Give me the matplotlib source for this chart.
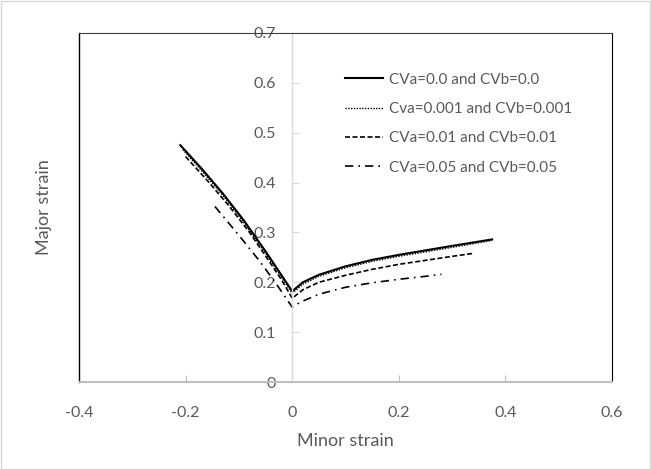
import matplotlib
matplotlib.use("Agg")
import matplotlib.pyplot as plt
from matplotlib.patches import Rectangle
from matplotlib.lines import Line2D

plt.rcParams['font.family'] = ['Lato', 'DejaVu Sans']

# curves
x_cv0 = [-0.21, -0.17, -0.13, -0.09, -0.05, -0.02, 0.0, 0.02, 0.05, 0.10, 0.15, 0.20, 0.25, 0.30, 0.375]
y_cv0 = [0.475, 0.428, 0.378, 0.323, 0.262, 0.214, 0.182, 0.200, 0.215, 0.232, 0.245, 0.255, 0.264, 0.273, 0.286]

x_cv001 = [-0.205, -0.17, -0.13, -0.09, -0.05, -0.02, 0.0, 0.02, 0.05, 0.10, 0.15, 0.20, 0.25, 0.30, 0.375]
y_cv001 = [0.466, 0.424, 0.374, 0.319, 0.258, 0.210, 0.178, 0.196, 0.212, 0.229, 0.242, 0.252, 0.261, 0.270, 0.284]

x_cv01 = [-0.20, -0.16, -0.12, -0.08, -0.04, -0.02, 0.0, 0.02, 0.05, 0.10, 0.15, 0.20, 0.25, 0.30, 0.34]
y_cv01 = [0.452, 0.405, 0.355, 0.300, 0.237, 0.205, 0.168, 0.185, 0.200, 0.214, 0.226, 0.236, 0.244, 0.252, 0.258]

x_cv05 = [-0.145, -0.12, -0.09, -0.06, -0.03, 0.0, 0.015, 0.05, 0.10, 0.15, 0.20, 0.25, 0.28]
y_cv05 = [0.352, 0.320, 0.281, 0.241, 0.197, 0.150, 0.160, 0.176, 0.190, 0.199, 0.206, 0.212, 0.216]

labels = ["CVa=0.0 and CVb=0.0", "Cva=0.001 and CVb=0.001",
          "CVa=0.01 and CVb=0.01", "CVa=0.05 and CVb=0.05"]

x_ticks = [-0.4, -0.2, 0, 0.2, 0.4, 0.6]
x_ticklabels = ["-0.4", "-0.2", "0", "0.2", "0.4", "0.6"]
y_ticks = [0, 0.1, 0.2, 0.3, 0.4, 0.5, 0.6, 0.7]
y_ticklabels = ["0", "0.1", "0.2", "0.3", "0.4", "0.5", "0.6", "0.7"]

GREY = "#595959"

fig = plt.figure(figsize=(6.51, 4.69), dpi=100)
ax = fig.add_axes([79 / 651, 1 - 382 / 469, 533 / 651, 349 / 469])

ax.plot(x_cv0, y_cv0, color="black", lw=1.5, ls="-", label=labels[0])
ax.plot(x_cv001, y_cv001, color="black", lw=1.0, ls=(0, (1, 1)), label=labels[1])
ax.plot(x_cv01, y_cv01, color="black", lw=1.2, ls=(0, (3, 1.5)), label=labels[2])
ax.plot(x_cv05, y_cv05, color="black", lw=1.2, ls=(0, (5, 3, 1, 3)), label=labels[3])

ax.set_xlim(-0.4, 0.6)
ax.set_ylim(0, 0.7)
ax.set_xticks(x_ticks)
ax.set_xticklabels(x_ticklabels)
ax.set_yticks(y_ticks)
ax.set_yticklabels(y_ticklabels)

# y axis sits at x = 0, plot area border drawn separately
ax.spines['left'].set_position(('data', 0))
ax.spines['left'].set_color("#D9D9D9")
ax.spines['left'].set_linewidth(1.0)
ax.spines['bottom'].set_color("#BFBFBF")
ax.spines['bottom'].set_linewidth(1.5)
ax.spines['top'].set_color("#404040")
ax.spines['right'].set_color("black")
ax.add_line(Line2D([0, 0], [0, 1], transform=ax.transAxes, color="black",
                   lw=1.0, clip_on=False))

ax.tick_params(axis='y', direction='in', length=5, color="#D9D9D9",
               labelsize=11.5, labelcolor=GREY, pad=12)
ax.tick_params(axis='x', direction='in', length=5, color="#BFBFBF",
               labelsize=11.5, labelcolor=GREY, pad=17)

ax.set_xlabel("Minor strain", fontsize=13, color=GREY)
ax.xaxis.set_label_coords(0.5, -0.145)
ax.set_ylabel("Major strain", fontsize=13, color=GREY)
ax.yaxis.set_label_coords(-0.05, 0.5)

leg = ax.legend(loc="upper left", bbox_to_anchor=(0.499, 0.886), frameon=False,
                fontsize=11, labelcolor=GREY, handlelength=2.5,
                handletextpad=0.4, labelspacing=1.0, borderpad=0,
                borderaxespad=0)

fig.patches.append(Rectangle((0.001, 0.001), 0.997, 0.997, transform=fig.transFigure,
                             fill=False, edgecolor="#D9D9D9", lw=1.0))

fig.savefig("out.png", dpi=100)
